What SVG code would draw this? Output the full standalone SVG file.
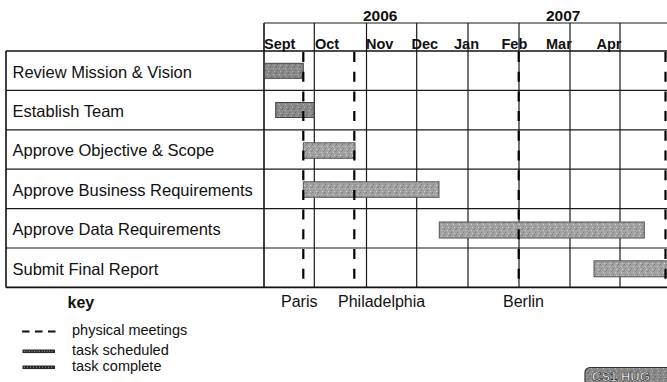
<svg xmlns="http://www.w3.org/2000/svg" width="667" height="382" viewBox="0 0 667 382">
  <style>
    .lbl { font-family: "Liberation Sans", Arial, sans-serif; font-size: 16.5px; fill: #111; }
    .mon { font-family: "Liberation Sans", Arial, sans-serif; font-size: 14.5px; font-weight: bold; fill: #111; }
    .yr { font-family: "Liberation Sans", Arial, sans-serif; font-size: 15.5px; font-weight: bold; fill: #111; }
    .city { font-family: "Liberation Sans", Arial, sans-serif; font-size: 16px; fill: #111; }
    .key { font-family: "Liberation Sans", Arial, sans-serif; font-size: 14.5px; fill: #111; }
    .grid { stroke: #1a1a1a; stroke-width: 1.2; fill: none; }
    .border { stroke: #111; stroke-width: 1.6; fill: none; }
    .meet { stroke: #000; stroke-width: 2.2; stroke-dasharray: 10 9.7; fill: none; }
    .done { fill: url(#texDone); stroke: #444; stroke-width: 1; }
    .sched { fill: url(#texSched); stroke: #555; stroke-width: 1; }
  </style>
  <defs>
    <pattern id="texDone" width="6" height="6" patternUnits="userSpaceOnUse">
      <rect width="6" height="6" fill="#8a8a8a"/>
      <rect x="0" y="0" width="1" height="1" fill="#606060"/>
      <rect x="3" y="2" width="1" height="1" fill="#b8b8b8"/>
      <rect x="1" y="4" width="1" height="1" fill="#6a6a6a"/>
      <rect x="4" y="5" width="1" height="1" fill="#b0b0b0"/>
      <rect x="5" y="1" width="1" height="1" fill="#727272"/>
    </pattern>
    <pattern id="texSched" width="6" height="6" patternUnits="userSpaceOnUse">
      <rect width="6" height="6" fill="#a2a2a2"/>
      <rect x="0" y="0" width="1" height="1" fill="#767676"/>
      <rect x="3" y="2" width="1" height="1" fill="#d0d0d0"/>
      <rect x="1" y="4" width="1" height="1" fill="#808080"/>
      <rect x="4" y="5" width="1" height="1" fill="#d4d4d4"/>
      <rect x="5" y="1" width="1" height="1" fill="#868686"/>
    </pattern>
  </defs>
  <rect width="667" height="382" fill="#fff"/>

  <g id="header">
    <text class="yr" x="363" y="21">2006</text>
    <text class="yr" x="546" y="21">2007</text>
    <line class="grid" x1="264" y1="23" x2="667" y2="23"/>
    <text class="mon" x="264" y="48.5">Sept</text>
    <text class="mon" x="315" y="48.5">Oct</text>
    <text class="mon" x="366" y="48.5">Nov</text>
    <text class="mon" x="411.5" y="48.5">Dec</text>
    <text class="mon" x="454" y="48.5">Jan</text>
    <text class="mon" x="501.5" y="48.5">Feb</text>
    <text class="mon" x="546" y="48.5">Mar</text>
    <text class="mon" x="596.5" y="48.5">Apr</text>
  </g>

  <g id="grid">
    <line class="grid" x1="314.3" y1="23" x2="314.3" y2="287.4"/>
    <line class="grid" x1="366.5" y1="23" x2="366.5" y2="287.4"/>
    <line class="grid" x1="416.7" y1="23" x2="416.7" y2="287.4"/>
    <line class="grid" x1="468" y1="23" x2="468" y2="287.4"/>
    <line class="grid" x1="519" y1="23" x2="519" y2="287.4"/>
    <line class="grid" x1="570" y1="23" x2="570" y2="287.4"/>
    <line class="grid" x1="620" y1="23" x2="620" y2="287.4"/>
    <line class="grid" x1="6" y1="90.4" x2="667" y2="90.4"/>
    <line class="grid" x1="6" y1="129.8" x2="667" y2="129.8"/>
    <line class="grid" x1="6" y1="169.2" x2="667" y2="169.2"/>
    <line class="grid" x1="6" y1="208.6" x2="667" y2="208.6"/>
    <line class="grid" x1="6" y1="248" x2="667" y2="248"/>
    <line class="border" x1="264" y1="23" x2="264" y2="287.4"/>
    <line class="border" x1="6" y1="51" x2="667" y2="51"/>
    <line class="border" x1="6" y1="51" x2="6" y2="287.4"/>
    <line class="border" x1="6" y1="287.4" x2="667" y2="287.4"/>
  </g>

  <g id="task-review">
    <text class="lbl" x="12.5" y="77.5">Review Mission &amp; Vision</text>
    <rect class="done" x="264.5" y="63.3" width="38.8" height="15"/>
  </g>
  <g id="task-team">
    <text class="lbl" x="12.5" y="116.9">Establish Team</text>
    <rect class="done" x="275.7" y="102.5" width="38.4" height="15"/>
  </g>
  <g id="task-objective">
    <text class="lbl" x="12.5" y="156.3">Approve Objective &amp; Scope</text>
    <rect class="sched" x="303.3" y="142.8" width="51.7" height="15.5"/>
  </g>
  <g id="task-business">
    <text class="lbl" x="12.5" y="195.7">Approve Business Requirements</text>
    <rect class="sched" x="303.3" y="181.8" width="135.7" height="15.5"/>
  </g>
  <g id="task-data">
    <text class="lbl" x="12.5" y="235.1">Approve Data Requirements</text>
    <rect class="sched" x="439.3" y="222" width="205" height="16"/>
  </g>
  <g id="task-report">
    <text class="lbl" x="12.5" y="274.5">Submit Final Report</text>
    <rect class="sched" x="594" y="260.8" width="76" height="16"/>
  </g>

  <g id="connectors">
    <line class="meet" x1="303.3" y1="52" x2="303.3" y2="287"/>
    <line class="meet" x1="354.3" y1="52" x2="354.3" y2="287"/>
    <line class="meet" x1="518.7" y1="52" x2="518.7" y2="287"/>
    <line class="meet" x1="665.5" y1="52" x2="665.5" y2="287"/>
  </g>

  <g id="meetings">
    <text class="city" x="281" y="307">Paris</text>
    <text class="city" x="338" y="307">Philadelphia</text>
    <text class="city" x="503" y="307">Berlin</text>
  </g>

  <g id="key">
    <text x="67.5" y="308" style="font-family:'Liberation Sans',Arial,sans-serif;font-size:16px;font-weight:bold;fill:#111">key</text>
    <line x1="22" y1="331.5" x2="58" y2="331.5" stroke="#111" stroke-width="2" stroke-dasharray="7.5 5.5"/>
    <text class="key" x="72" y="335">physical meetings</text>
    <rect x="22.5" y="349.5" width="32.5" height="3.6" fill="#2a2a2a"/>
    <line x1="24" y1="351.3" x2="54" y2="351.3" stroke="#bbb" stroke-width="0.8" stroke-dasharray="1 1.5"/>
    <text class="key" x="72" y="355">task scheduled</text>
    <rect x="22.5" y="365.5" width="32.5" height="3.6" fill="#2a2a2a"/>
    <line x1="24" y1="367.3" x2="54" y2="367.3" stroke="#aaa" stroke-width="0.8" stroke-dasharray="1 2"/>
    <text class="key" x="72" y="371">task complete</text>
  </g>

  <g id="badge">
    <rect x="585" y="367.5" width="90" height="30" rx="5" fill="url(#texDone)" stroke="#333" stroke-width="1.2"/>
    <text x="592" y="380.5" style="font-family:'Liberation Sans',Arial,sans-serif;font-size:13px;font-weight:bold;fill:#fff;stroke:#222;stroke-width:0.6">CS1 HUG</text>
  </g>
</svg>
